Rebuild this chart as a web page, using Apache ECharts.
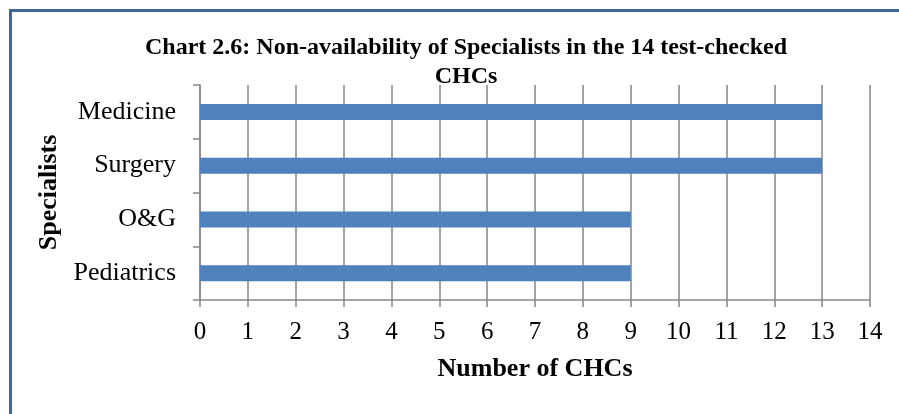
<!DOCTYPE html>
<html>
<head>
<meta charset="utf-8">
<script src="https://cdn.jsdelivr.net/npm/echarts@6/dist/echarts.min.js"></script>
<style>
  html, body { margin: 0; padding: 0; background: #fff; }
  #chart { width: 899px; height: 414px; }
</style>
</head>
<body>
<div id="chart"></div>
<script>
// data (bottom to top)
var specialists = ['Pediatrics', 'O&G', 'Surgery', 'Medicine']
var chcCount = [9, 9, 13, 13]
var xTicks = [0, 14, 1] // min, max, step

var serif = '"Liberation Serif", "Times New Roman", serif'
var gray = '#868686'

var myChart = echarts.init(document.getElementById('chart'))

var option = {
  backgroundColor: '#fff',
  animation: false,
  title: {
    text: 'Chart 2.6: Non-availability of Specialists in the 14 test-checked\nCHCs',
    left: 461,
    top: 28,
    textAlign: 'center',
    textStyle: {
      fontFamily: serif,
      fontWeight: 'bold',
      fontSize: 24,
      lineHeight: 29,
      color: '#000'
    }
  },
  // outer chart frame (only top and left edges fall inside the picture)
  graphic: [{
    type: 'rect',
    shape: { x: 10.5, y: 10.5, width: 1000, height: 1000 },
    style: { fill: 'none', stroke: '#3f6797', lineWidth: 3 },
    silent: true
  }],
  grid: {
    left: 200,
    right: 29,
    top: 85,
    bottom: 114
  },
  xAxis: {
    type: 'value',
    min: xTicks[0],
    max: xTicks[1],
    interval: xTicks[2],
    name: 'Number of CHCs',
    nameLocation: 'middle',
    nameGap: 56,
    nameTextStyle: {
      fontFamily: serif,
      fontWeight: 'bold',
      fontSize: 26,
      color: '#000'
    },
    axisLine: { show: true, lineStyle: { color: gray, width: 1.5 } },
    axisTick: { show: true, length: 7, lineStyle: { color: gray, width: 1.5 } },
    axisLabel: {
      margin: 20,
      fontFamily: serif,
      fontSize: 25,
      color: '#000'
    },
    splitLine: { show: true, lineStyle: { color: gray, width: 1.5 } }
  },
  yAxis: {
    type: 'category',
    data: specialists,
    name: 'Specialists',
    nameLocation: 'middle',
    nameGap: 132,
    nameRotate: 90,
    nameTextStyle: {
      fontFamily: serif,
      fontWeight: 'bold',
      fontSize: 26,
      color: '#000'
    },
    axisLine: { show: true, lineStyle: { color: gray, width: 1.5 } },
    axisTick: { show: true, length: 7, lineStyle: { color: gray, width: 1.5 } },
    axisLabel: {
      margin: 24,
      fontFamily: serif,
      fontSize: 26,
      color: '#000'
    },
    splitLine: { show: false }
  },
  series: [{
    name: 'CHCs',
    type: 'bar',
    data: chcCount,
    barWidth: 16,
    itemStyle: { color: '#4f81bd' }
  }]
}

myChart.setOption(option, true)
</script>
</body>
</html>
